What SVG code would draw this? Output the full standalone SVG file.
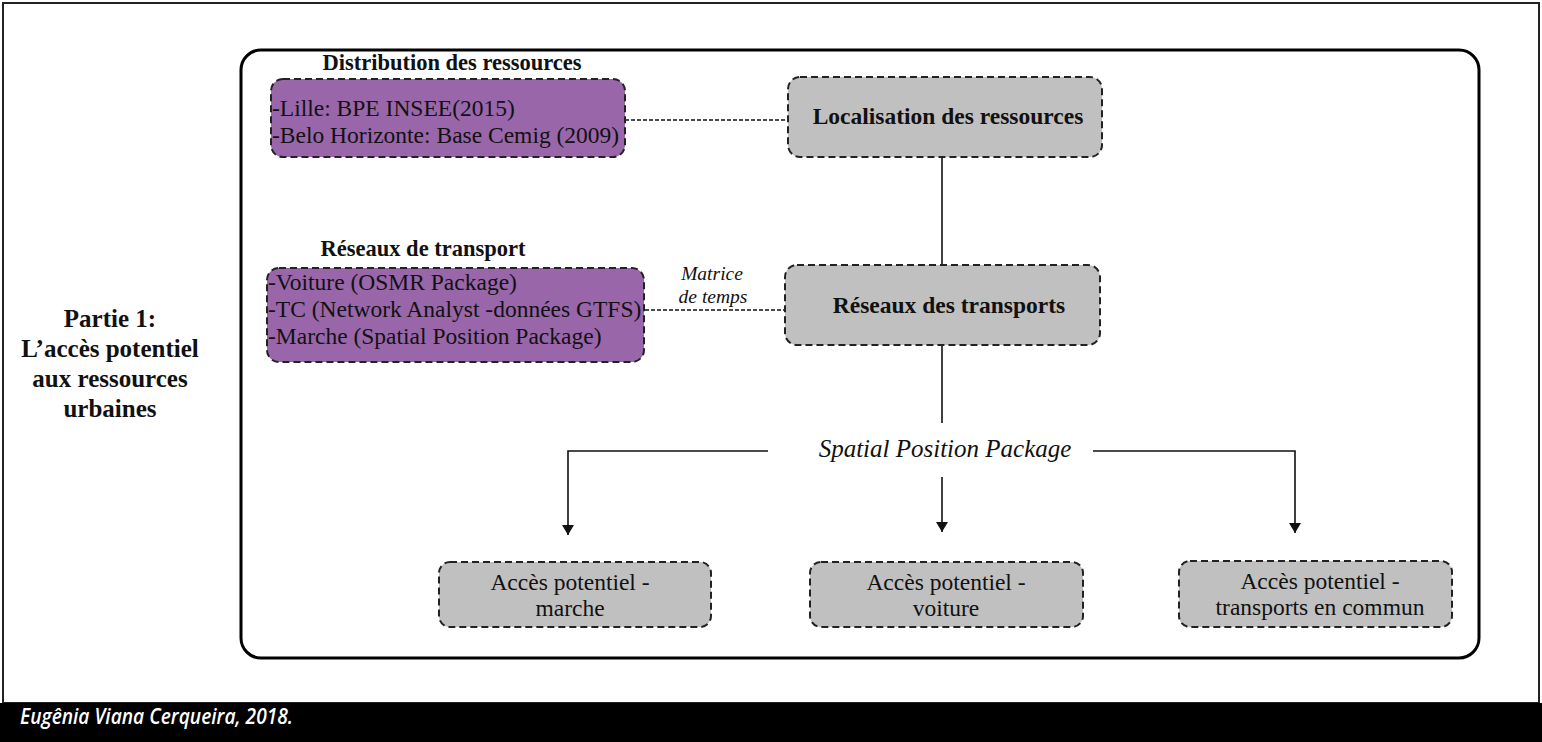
<svg xmlns="http://www.w3.org/2000/svg" width="1542" height="742" viewBox="0 0 1542 742">
<style>
.serif{font-family:"Liberation Serif","Times New Roman",serif;}
.b{font-weight:bold;}
.i{font-style:italic;}
.purple{fill:#9966AA;stroke:#222;stroke-width:2;stroke-dasharray:7 4;}
.gray{fill:#C0C0C0;stroke:#222;stroke-width:2;stroke-dasharray:7 4;}
.dash{stroke:#111;stroke-width:1.5;stroke-dasharray:4 2;fill:none;}
.solid{stroke:#111;stroke-width:1.6;fill:none;}
.t{font-size:23.5px;fill:#111;}
</style>
<defs>
<marker id="arr" viewBox="0 0 10 12" refX="10" refY="6" markerWidth="10" markerHeight="12" markerUnits="userSpaceOnUse" orient="auto">
<path d="M0,0 L10,6 L0,12 Z" fill="#111"/>
</marker>
</defs>
<rect x="0" y="0" width="1542" height="742" fill="#fff"/>
<rect x="3" y="3" width="1536" height="700" fill="none" stroke="#222" stroke-width="2"/>
<rect x="0" y="703" width="1542" height="39" fill="#000"/>
<text x="20" y="724" font-family="'Open Sans',sans-serif" font-style="italic" font-weight="600" font-size="21" fill="#fff" textLength="273" lengthAdjust="spacingAndGlyphs">Eugênia Viana Cerqueira, 2018.</text>

<g id="frame">
<rect x="241" y="50" width="1238" height="608" rx="20" ry="20" fill="none" stroke="#000" stroke-width="3"/>
</g>

<g id="partie" class="serif b" font-size="25" text-anchor="middle" fill="#111">
<text x="110" y="327">Partie 1:</text>
<text x="110" y="357">L’accès potentiel</text>
<text x="110" y="387">aux ressources</text>
<text x="110" y="417">urbaines</text>
</g>

<g id="connectors">
<line class="dash" x1="625" y1="120" x2="788" y2="120"/>
<line class="dash" x1="645" y1="310" x2="785" y2="310"/>
<line class="solid" x1="942" y1="157" x2="942" y2="265"/>
<line class="solid" x1="942" y1="345" x2="942" y2="423"/>
<polyline class="solid" points="768,451 568,451 568,535" marker-end="url(#arr)"/>
<polyline class="solid" points="1093,451 1295,451 1295,533" marker-end="url(#arr)"/>
<line class="solid" x1="942" y1="477" x2="942" y2="532" marker-end="url(#arr)"/>
<text class="serif i" font-size="19.5" x="712" y="280" text-anchor="middle" fill="#111">Matrice</text>
<text class="serif i" font-size="19.5" x="713" y="303" text-anchor="middle" fill="#111">de temps</text>
<text class="serif i" font-size="25" x="945" y="457" text-anchor="middle" fill="#111">Spatial Position Package</text>
</g>

<g id="distribution">
<text class="serif b" font-size="22.5" x="452" y="70" text-anchor="middle" fill="#111">Distribution des ressources</text>
<rect class="purple" x="271" y="79" width="354" height="78" rx="12"/>
<text class="serif t" x="272" y="116">-Lille: BPE INSEE(2015)</text>
<text class="serif t" x="272" y="143">-Belo Horizonte: Base Cemig (2009)</text>
</g>

<g id="reseaux-transport">
<text class="serif b" font-size="22.5" x="423" y="256" text-anchor="middle" fill="#111">Réseaux de transport</text>
<rect class="purple" x="267" y="268" width="377" height="94" rx="12"/>
<text class="serif t" x="268" y="290">-Voiture (OSMR Package)</text>
<text class="serif t" x="268" y="317">-TC (Network Analyst -données GTFS)</text>
<text class="serif t" x="268" y="344">-Marche (Spatial Position Package)</text>
</g>

<g id="localisation">
<rect class="gray" x="788" y="77" width="314" height="80" rx="12"/>
<text class="serif b t" x="948" y="124" text-anchor="middle">Localisation des ressources</text>
</g>

<g id="reseaux-transports">
<rect class="gray" x="785" y="265" width="315" height="80" rx="12"/>
<text class="serif b t" x="949" y="313" text-anchor="middle">Réseaux des transports</text>
</g>

<g id="acces-marche">
<rect class="gray" x="439" y="562" width="272" height="65" rx="11"/>
<text class="serif t" x="570" y="590" text-anchor="middle" fill="#222">Accès potentiel -</text>
<text class="serif t" x="570" y="616" text-anchor="middle" fill="#222">marche</text>
</g>

<g id="acces-voiture">
<rect class="gray" x="810" y="562" width="273" height="65" rx="11"/>
<text class="serif t" x="946" y="590" text-anchor="middle" fill="#222">Accès potentiel -</text>
<text class="serif t" x="946" y="616" text-anchor="middle" fill="#222">voiture</text>
</g>

<g id="acces-tc">
<rect class="gray" x="1179" y="561" width="273" height="66" rx="11"/>
<text class="serif t" x="1320" y="589" text-anchor="middle" fill="#222">Accès potentiel -</text>
<text class="serif t" x="1320" y="615" text-anchor="middle" fill="#222">transports en commun</text>
</g>
</svg>
